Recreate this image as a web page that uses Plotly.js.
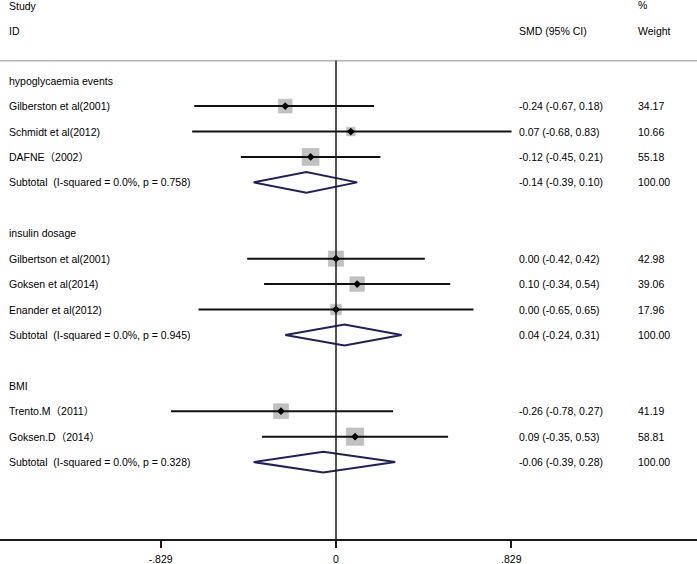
<!DOCTYPE html>
<html>
<head>
<meta charset="utf-8">
<script src="https://cdn.plot.ly/plotly-3.0.1.min.js"></script>
<style>html,body{margin:0;padding:0;background:#fff;}#chart{width:697px;height:564px;}</style>
</head>
<body>
<div id="chart"></div>
<script>
// ---- data ----
const groupNames = ['hypoglycaemia events', 'insulin dosage', 'BMI'];
const studyNames = ['Gilberston et al(2001)', 'Schmidt et al(2012)', 'DAFNE\uFF082002\uFF09',
                    'Gilbertson et al(2001)', 'Goksen et al(2014)', 'Enander et al(2012)',
                    'Trento.M\uFF082011\uFF09', 'Goksen.D\uFF082014\uFF09'];
const studyGroup = [0, 0, 0, 1, 1, 1, 2, 2];
const smd    = [-0.24, 0.07, -0.12, 0.00, 0.10, 0.00, -0.26, 0.09];
const ciLow  = [-0.67, -0.68, -0.45, -0.42, -0.34, -0.65, -0.78, -0.35];
const ciHigh = [0.18, 0.83, 0.21, 0.42, 0.54, 0.65, 0.27, 0.53];
const weights = [34.17, 10.66, 55.18, 42.98, 39.06, 17.96, 41.19, 58.81];
const subI2   = ['0.0%', '0.0%', '0.0%'];
const subP    = ['0.758', '0.945', '0.328'];
const subSmd  = [-0.14, 0.04, -0.06];
const subLow  = [-0.39, -0.24, -0.39];
const subHigh = [0.10, 0.31, 0.28];
const subWeight = [100.00, 100.00, 100.00];
const tickVals = [-0.829, 0, 0.829];
const tickText = ['-.829', '0', '.829'];

// ---- row layout ----
const studyRow = [], headerRow = [], subRow = [];
let r = -1;
groupNames.forEach((g, gi) => {
  headerRow.push(r); r++;
  studyGroup.forEach((sg, i) => { if (sg === gi) { studyRow[i] = r; r++; } });
  subRow.push(r); r += 2;
});

const FONT = 'Liberation Sans, Arial, "Noto Sans CJK SC", sans-serif';
const TXT = '#000000';
const FS = 10.5;
const f2 = v => v.toFixed(2);
const ciText = (e, l, h) => f2(e) + ' (' + f2(l) + ', ' + f2(h) + ')';

const colStudy = 0.0105, colSmd = 0.742, colW = 0.912;
const ann = [];
function addText(x, y, text) {
  ann.push({xref: 'paper', x: x, xanchor: 'left', yref: 'y', y: y, yanchor: 'middle',
            text: text, showarrow: false, font: {family: FONT, size: FS, color: TXT}});
}
// headers
addText(colStudy, -3.95, 'Study');
addText(colStudy, -2.95, 'ID');
addText(colSmd, -2.95, 'SMD (95% CI)');
addText(colW, -3.97, '%');
addText(colW, -2.95, 'Weight');
groupNames.forEach((g, gi) => {
  addText(colStudy, headerRow[gi], g);
  addText(colStudy, subRow[gi], 'Subtotal\u00a0 (I-squared = ' + subI2[gi] + ', p = ' + subP[gi] + ')');
  addText(colSmd, subRow[gi], ciText(subSmd[gi], subLow[gi], subHigh[gi]));
  addText(colW, subRow[gi], subWeight[gi].toFixed(2));
});
studyNames.forEach((s, i) => {
  addText(colStudy, studyRow[i], s);
  addText(colSmd, studyRow[i], ciText(smd[i], ciLow[i], ciHigh[i]));
  addText(colW, studyRow[i], weights[i].toFixed(2));
});

// ---- traces ----
const boxTrace = {
  type: 'scatter', mode: 'markers', x: smd, y: studyRow, hoverinfo: 'skip',
  marker: {symbol: 'square', color: '#a8a8a8', size: weights.map(w => 2.0 * Math.sqrt(w) + 2),
           line: {width: 0.6, color: '#999999'}}
};
const ciX = [], ciY = [];
smd.forEach((v, i) => { ciX.push(ciLow[i], ciHigh[i], null); ciY.push(studyRow[i], studyRow[i], null); });
const ciTrace = {type: 'scatter', mode: 'lines', x: ciX, y: ciY, hoverinfo: 'skip',
  line: {color: '#111111', width: 2}};
const ptTrace = {type: 'scatter', mode: 'markers', x: smd, y: studyRow, hoverinfo: 'skip',
  marker: {symbol: 'diamond', color: '#000000', size: 6}};
const dh = 0.41;
const dX = [], dY = [];
subSmd.forEach((v, i) => {
  dX.push(subLow[i], v, subHigh[i], v, subLow[i], null);
  dY.push(subRow[i], subRow[i] - dh, subRow[i], subRow[i] + dh, subRow[i], null);
});
const diaTrace = {type: 'scatter', mode: 'lines', x: dX, y: dY, hoverinfo: 'skip',
  line: {color: '#1f1f62', width: 2}};

const layout = {
  width: 697, height: 564,
  margin: {l: 0, r: 0, t: 0, b: 25, pad: 0},
  paper_bgcolor: '#ffffff', plot_bgcolor: '#ffffff',
  showlegend: false,
  xaxis: {range: [-1.5887, 1.7069], showgrid: false, zeroline: false, showline: true,
          linecolor: '#1a1a1a', linewidth: 2, ticks: 'outside', ticklen: 7, tickwidth: 2,
          tickcolor: '#1a1a1a', tickvals: tickVals, ticktext: tickText,
          tickfont: {family: FONT, size: FS, color: TXT}, ticklabelstandoff: 2, fixedrange: true},
  yaxis: {range: [17.026, -4.173], visible: false, showgrid: false, zeroline: false, fixedrange: true},
  shapes: [
    {type: 'line', xref: 'paper', x0: 0, x1: 1, yref: 'y', y0: -1.78, y1: -1.78,
     line: {color: '#b4b4b4', width: 1.5}, layer: 'below'},
    {type: 'line', xref: 'x', x0: 0, x1: 0, yref: 'y', y0: -1.78, y1: 17.026,
     line: {color: '#1a1a1a', width: 1.5}, layer: 'above'}
  ],
  annotations: ann
};

Plotly.newPlot('chart', [boxTrace, ciTrace, ptTrace, diaTrace], layout, {displayModeBar: false, staticPlot: true});
</script>
</body>
</html>
